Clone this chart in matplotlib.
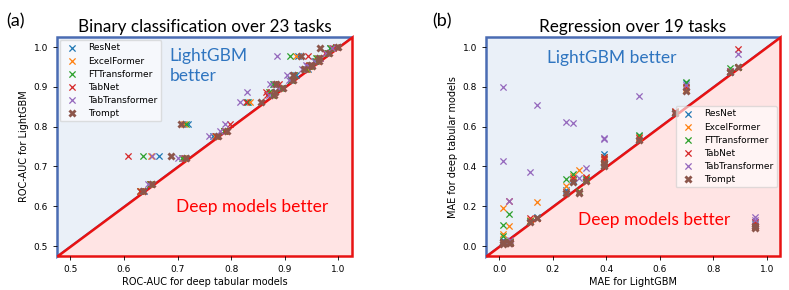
import numpy as np
import matplotlib
matplotlib.use('Agg')
import matplotlib.pyplot as plt
from matplotlib.patches import Polygon

# modelos y colores
modelos = ['ResNet', 'ExcelFormer', 'FTTransformer', 'TabNet', 'TabTransformer', 'Trompt']
colores = ['#1f77b4', '#ff7f0e', '#2ca02c', '#d62728', '#9467bd', '#8c564b']

# (a) clasificacion binaria: ROC-AUC de LightGBM por tarea
auc_lgbm = [1.000, 0.998, 0.978, 0.973, 0.955, 0.945, 0.929, 0.908, 0.888, 0.862, 0.880, 0.808,
            0.790, 0.777, 0.727, 0.722, 0.655, 0.638, 0.985, 0.965, 0.918, 0.898, 0.952]
# ROC-AUC de los modelos profundos (mismo orden de tareas)
auc_resnet = [0.998, 0.985, 0.925, 0.962, 0.950, 0.943, 0.920, 0.880, 0.875, 0.832, 0.878, 0.720,
              0.787, 0.766, 0.666, 0.712, 0.650, 0.638, 0.980, 0.958, 0.912, 0.893, 0.948]
auc_excel = [0.997, 0.986, 0.921, 0.960, 0.948, 0.941, 0.918, 0.882, 0.873, 0.835, 0.877, 0.712,
             0.786, 0.770, 0.650, 0.710, 0.649, 0.632, 0.978, 0.960, 0.914, 0.890, 0.946]
auc_ft = [0.996, 0.984, 0.910, 0.958, 0.947, 0.940, 0.917, 0.878, 0.870, 0.830, 0.876, 0.716,
          0.786, 0.771, 0.636, 0.708, 0.648, 0.630, 0.981, 0.957, 0.911, 0.892, 0.945]
auc_tabnet = [0.995, 0.990, 0.944, 0.966, 0.945, 0.938, 0.916, 0.890, 0.864, 0.828, 0.866, 0.797,
              0.788, 0.772, 0.608, 0.714, 0.650, 0.630, 0.975, 0.962, 0.913, 0.894, 0.944]
auc_tabtrans = [0.998, 0.988, 0.886, 0.965, 0.940, 0.932, 0.905, 0.873, 0.830, 0.817, 0.870, 0.788,
                0.780, 0.759, 0.653, 0.700, 0.644, 0.635, 0.977, 0.955, 0.908, 0.887, 0.942]
auc_trompt = [0.999, 0.966, 0.931, 0.963, 0.948, 0.936, 0.916, 0.884, 0.881, 0.856, 0.880, 0.707,
              0.793, 0.775, 0.687, 0.716, 0.653, 0.635, 0.982, 0.963, 0.916, 0.896, 0.950]

# (b) regresion: MAE de LightGBM por tarea
mae_lgbm = [0.013, 0.013, 0.037, 0.116, 0.141, 0.251, 0.274, 0.299, 0.323, 0.390,
            0.392, 0.522, 0.658, 0.700, 0.862, 0.893, 0.955, 0.955, 0.040]
mae_resnet = [0.030, 0.020, 0.020, 0.125, 0.148, 0.280, 0.330, 0.270, 0.330, 0.465,
              0.420, 0.555, 0.670, 0.820, 0.875, 0.900, 0.110, 0.095, 0.020]
mae_excel = [0.190, 0.060, 0.100, 0.130, 0.220, 0.300, 0.350, 0.380, 0.340, 0.440,
             0.430, 0.550, 0.675, 0.790, 0.880, 0.900, 0.120, 0.100, 0.025]
mae_ft = [0.105, 0.050, 0.160, 0.128, 0.140, 0.335, 0.360, 0.275, 0.335, 0.450,
          0.410, 0.560, 0.675, 0.825, 0.895, 0.900, 0.120, 0.095, 0.020]
mae_tabnet = [0.020, 0.015, 0.225, 0.142, 0.140, 0.270, 0.340, 0.270, 0.345, 0.440,
              0.450, 0.545, 0.680, 0.800, 0.880, 0.990, 0.120, 0.100, 0.015]
mae_tabtrans = [0.800, 0.430, 0.228, 0.370, 0.710, 0.625, 0.617, 0.340, 0.390, 0.545,
                0.540, 0.755, 0.670, 0.810, 0.880, 0.963, 0.147, 0.130, 0.030]
mae_trompt = [0.020, 0.010, 0.015, 0.120, 0.140, 0.265, 0.320, 0.265, 0.325, 0.420,
              0.405, 0.535, 0.670, 0.780, 0.875, 0.900, 0.100, 0.090, 0.015]

auc_deep = [auc_resnet, auc_excel, auc_ft, auc_tabnet, auc_tabtrans, auc_trompt]
mae_deep = [mae_resnet, mae_excel, mae_ft, mae_tabnet, mae_tabtrans, mae_trompt]

AZUL_BORDE = '#4a6cb3'
AZUL_FONDO = '#eaf0f8'
ROJO_BORDE = '#e81212'
ROJO_FONDO = '#ffe4e4'
FUENTE = ['Lato', 'DejaVu Sans']


def fondo(ax, lo, hi):
    # triangulos: arriba LightGBM mejor, abajo modelos profundos mejor
    ax.add_patch(Polygon([(lo, lo), (lo, hi), (hi, hi)], closed=True, facecolor=AZUL_FONDO,
                         edgecolor=AZUL_BORDE, lw=1.8, zorder=0, clip_on=False))
    ax.add_patch(Polygon([(lo, lo), (hi, lo), (hi, hi)], closed=True, facecolor=ROJO_FONDO,
                         edgecolor=ROJO_BORDE, lw=1.8, zorder=0, clip_on=False))
    ax.set_xlim(lo, hi)
    ax.set_ylim(lo, hi)
    for s in ax.spines.values():
        s.set_visible(False)


def puntos(ax, xs_list, ys_list):
    for nombre, color, xs, ys in zip(modelos, colores, xs_list, ys_list):
        if nombre == 'Trompt':
            ax.scatter(xs, ys, marker='X', s=34, color=color, label=nombre, zorder=3, linewidths=0)
        else:
            ax.scatter(xs, ys, marker='x', s=20, color=color, label=nombre, zorder=3, linewidths=0.9)


fig = plt.figure(figsize=(7.89, 2.90), dpi=100)
ax1 = fig.add_axes([0.0722, 0.117, 0.3737, 0.755])
ax2 = fig.add_axes([0.616, 0.117, 0.3726, 0.755])

# panel (a)
fondo(ax1, 0.475, 1.025)
puntos(ax1, auc_deep, [auc_lgbm] * 6)
ax1.set_xticks([0.5, 0.6, 0.7, 0.8, 0.9, 1.0])
ax1.set_yticks([0.5, 0.6, 0.7, 0.8, 0.9, 1.0])
ax1.tick_params(labelsize=6.5, length=3, width=0.6)
ax1.set_xlabel('ROC-AUC for deep tabular models', fontsize=7, labelpad=2)
ax1.set_ylabel('ROC-AUC for LightGBM', fontsize=7, labelpad=3)
ax1.set_title('Binary classification over 23 tasks', fontsize=12.3, family=FUENTE, pad=4)
ax1.text(0.685, 0.998, 'LightGBM\nbetter', color='#2f75c0', fontsize=12.5, family=FUENTE,
         va='top', ha='left', linespacing=1.3)
ax1.text(0.697, 0.599, 'Deep models better', color='#ff0000', fontsize=12.5, family=FUENTE,
         va='center', ha='left')
ax1.legend(loc='upper left', fontsize=6.5, framealpha=0.6, borderpad=0.4, labelspacing=0.45,
           handletextpad=0.8, borderaxespad=0.3)

# panel (b)
fondo(ax2, -0.05, 1.05)
puntos(ax2, [mae_lgbm] * 6, mae_deep)
ax2.set_xticks([0.0, 0.2, 0.4, 0.6, 0.8, 1.0])
ax2.set_yticks([0.0, 0.2, 0.4, 0.6, 0.8, 1.0])
ax2.tick_params(labelsize=6.5, length=3, width=0.6)
ax2.set_xlabel('MAE for LightGBM', fontsize=7, labelpad=2)
ax2.set_ylabel('MAE for deep tabular models', fontsize=7, labelpad=3)
ax2.set_title('Regression over 19 tasks', fontsize=12.3, family=FUENTE, pad=4)
ax2.text(0.177, 0.945, 'LightGBM better', color='#2f75c0', fontsize=12.5, family=FUENTE,
         va='center', ha='left')
ax2.text(0.293, 0.13, 'Deep models better', color='#ff0000', fontsize=12.5, family=FUENTE,
         va='center', ha='left')
ax2.legend(loc='center right', fontsize=6.5, framealpha=0.6, borderpad=0.4, labelspacing=0.45,
           handletextpad=0.8, borderaxespad=0.3)

fig.text(0.008, 0.955, '(a)', fontsize=13, family=FUENTE, va='top')
fig.text(0.548, 0.955, '(b)', fontsize=13, family=FUENTE, va='top')

plt.savefig('out.png', dpi=100)
